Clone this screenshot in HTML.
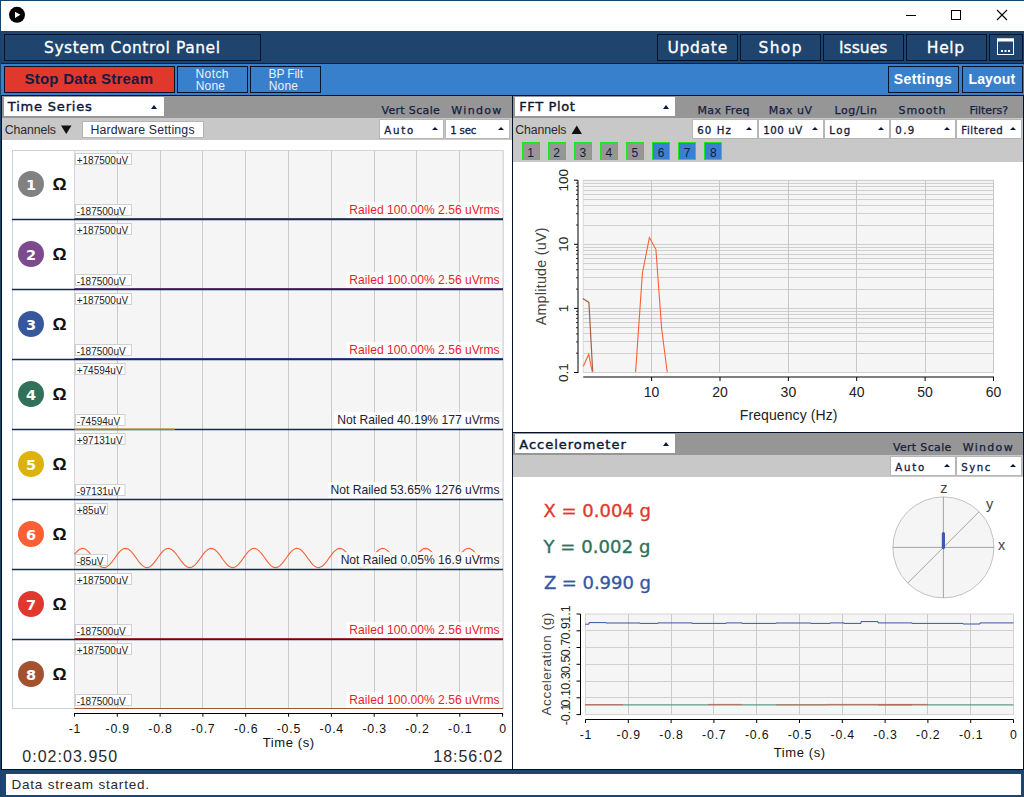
<!DOCTYPE html><html><head><meta charset="utf-8"><title>OpenBCI GUI</title><style>
html,body{margin:0;padding:0;}
body{width:1024px;height:797px;position:relative;overflow:hidden;background:#fff;font-family:"Liberation Sans",sans-serif;}
.a{position:absolute;box-sizing:border-box;}
.t{position:absolute;white-space:nowrap;line-height:1;}
.btn{position:absolute;box-sizing:border-box;border:1px solid #011229;}
.dd{position:absolute;box-sizing:border-box;background:#fff;border:1px solid #b6b6b6;height:20px;}
.dd i{position:absolute;right:4.8px;top:7px;width:0;height:0;border-left:3px solid transparent;border-right:3px solid transparent;border-bottom:3.5px solid #0c1a38;}
.ttl{position:absolute;box-sizing:border-box;background:#fff;height:19px;width:160px;}
.ttl i{position:absolute;right:6.5px;top:7.5px;width:0;height:0;border-left:3px solid transparent;border-right:3px solid transparent;border-bottom:4px solid #0c1a38;}
svg{position:absolute;left:0;top:0;}
svg text{font-family:"Liberation Sans",sans-serif;}
</style></head><body>
<div class="a" style="left:0;top:0;width:1024px;height:31px;background:#fff;border-top:1px solid #17446b;border-left:1px solid #17446b;"></div>
<svg width="1024" height="31" style="z-index:2"><circle cx="17" cy="14.8" r="8" fill="#000"/><path d="M15 11.7 L15 17.9 L20.4 14.8 Z" fill="#fff"/><path d="M906 15.5 H916" stroke="#000" stroke-width="1"/><rect x="951.5" y="10.5" width="9" height="9" fill="none" stroke="#000" stroke-width="1"/><path d="M997 10 L1007 20 M1007 10 L997 20" stroke="#000" stroke-width="1.1"/></svg>
<div class="a" style="left:0;top:31px;width:1024px;height:33px;background:#1f456e;border-bottom:1px solid #0b213f;"></div>
<div class="btn" style="left:4px;top:34px;width:257px;height:27px;background:#1f456e;"></div>
<div class="t" style="left:44px;top:41.00px;font-size:15.5px;color:#fff;font-family:'DejaVu Sans', 'Liberation Sans', sans-serif;font-weight:400;letter-spacing:0.55px;-webkit-text-stroke:0.3px #fff;">System Control Panel</div>
<div class="btn" style="left:657px;top:34px;width:81px;height:27px;background:#1f456e;"></div>
<div class="t" style="left:667.4px;top:41.00px;font-size:15.5px;color:#fff;font-family:'DejaVu Sans', 'Liberation Sans', sans-serif;font-weight:400;letter-spacing:0.73px;-webkit-text-stroke:0.3px #fff;">Update</div>
<div class="btn" style="left:740px;top:34px;width:81px;height:27px;background:#1f456e;"></div>
<div class="t" style="left:758.5px;top:41.00px;font-size:15.5px;color:#fff;font-family:'DejaVu Sans', 'Liberation Sans', sans-serif;font-weight:400;letter-spacing:1.33px;-webkit-text-stroke:0.3px #fff;">Shop</div>
<div class="btn" style="left:823px;top:34px;width:81px;height:27px;background:#1f456e;"></div>
<div class="t" style="left:839px;top:41.00px;font-size:15.5px;color:#fff;font-family:'DejaVu Sans', 'Liberation Sans', sans-serif;font-weight:400;letter-spacing:0.03px;-webkit-text-stroke:0.3px #fff;">Issues</div>
<div class="btn" style="left:906px;top:34px;width:81px;height:27px;background:#1f456e;"></div>
<div class="t" style="left:926.8px;top:41.00px;font-size:15.5px;color:#fff;font-family:'DejaVu Sans', 'Liberation Sans', sans-serif;font-weight:400;letter-spacing:0.69px;-webkit-text-stroke:0.3px #fff;">Help</div>
<div class="btn" style="left:989px;top:34px;width:34px;height:27px;background:#1f456e;"></div>
<svg width="1024" height="70" style="z-index:2"><rect x="997.5" y="39" width="16" height="15.5" fill="none" stroke="#fff" stroke-width="1"/><rect x="997" y="38.5" width="17" height="3" fill="#fff"/><rect x="1001" y="50" width="2" height="2" fill="#fff"/><rect x="1004.5" y="50" width="2" height="2" fill="#fff"/><rect x="1008" y="50" width="2" height="2" fill="#fff"/></svg>
<div class="a" style="left:0;top:64px;width:1024px;height:31px;background:#3980cc;"></div>
<div class="btn" style="left:4px;top:66px;width:171px;height:27px;background:#e0382d;"></div>
<div class="t" style="left:24.5px;top:71.00px;font-size:15px;color:#151a45;font-family:'Liberation Sans', sans-serif;font-weight:700;letter-spacing:0.23px;">Stop Data Stream</div>
<div class="btn" style="left:177px;top:66px;width:71px;height:27px;background:#3980cc;"></div>
<div class="t" style="left:195.5px;top:68.00px;font-size:12px;color:#e9f0fa;font-family:'Liberation Sans', sans-serif;font-weight:400;letter-spacing:0.41px;">Notch</div>
<div class="t" style="left:195.7px;top:80.00px;font-size:12px;color:#e9f0fa;font-family:'Liberation Sans', sans-serif;font-weight:400;letter-spacing:0.2px;">None</div>
<div class="btn" style="left:250px;top:66px;width:71px;height:27px;background:#3980cc;"></div>
<div class="t" style="left:268.5px;top:68.00px;font-size:12px;color:#e9f0fa;font-family:'Liberation Sans', sans-serif;font-weight:400;letter-spacing:-0.1px;">BP Filt</div>
<div class="t" style="left:268.7px;top:80.00px;font-size:12px;color:#e9f0fa;font-family:'Liberation Sans', sans-serif;font-weight:400;letter-spacing:0.2px;">None</div>
<div class="btn" style="left:888px;top:66px;width:71px;height:27px;background:#3980cc;"></div>
<div class="t" style="left:893.8px;top:72.00px;font-size:14px;color:#fff;font-family:'Liberation Sans', sans-serif;font-weight:700;letter-spacing:0.4px;">Settings</div>
<div class="btn" style="left:962px;top:66px;width:61px;height:27px;background:#3980cc;"></div>
<div class="t" style="left:968.5px;top:72.00px;font-size:14px;color:#fff;font-family:'Liberation Sans', sans-serif;font-weight:700;letter-spacing:0.14px;">Layout</div>
<div class="a" style="left:1px;top:95px;width:512px;height:675px;background:#fff;border:1px solid #011229;"></div>
<div class="a" style="left:2px;top:96px;width:510px;height:22px;background:#969696;"></div>
<div class="a" style="left:2px;top:118px;width:510px;height:22px;background:#c8c8c8;"></div>
<div class="a" style="left:512px;top:95px;width:512px;height:338px;background:#fff;border:1px solid #011229;"></div>
<div class="a" style="left:513px;top:96px;width:510px;height:22px;background:#969696;"></div>
<div class="a" style="left:513px;top:118px;width:510px;height:22px;background:#c8c8c8;"></div>
<div class="a" style="left:513px;top:140px;width:510px;height:22px;background:#c8c8c8;"></div>
<div class="a" style="left:512px;top:432px;width:512px;height:338px;background:#fff;border:1px solid #011229;"></div>
<div class="a" style="left:513px;top:433px;width:510px;height:22px;background:#969696;"></div>
<div class="a" style="left:513px;top:455px;width:510px;height:22px;background:#c8c8c8;"></div>
<div class="ttl" style="left:3.5px;top:97px;"><i></i></div>
<div class="t" style="left:7.8px;top:100.00px;font-size:13px;color:#0b1735;font-family:'DejaVu Sans', 'Liberation Sans', sans-serif;font-weight:400;letter-spacing:0.81px;-webkit-text-stroke:0.4px #0b1735;">Time Series</div>
<div class="ttl" style="left:515px;top:97px;"><i></i></div>
<div class="t" style="left:519.3px;top:100.00px;font-size:13px;color:#0b1735;font-family:'DejaVu Sans', 'Liberation Sans', sans-serif;font-weight:400;letter-spacing:0.6px;-webkit-text-stroke:0.4px #0b1735;">FFT Plot</div>
<div class="ttl" style="left:515px;top:434px;"><i></i></div>
<div class="t" style="left:519.3px;top:438.00px;font-size:13px;color:#0b1735;font-family:'DejaVu Sans', 'Liberation Sans', sans-serif;font-weight:400;letter-spacing:0.98px;-webkit-text-stroke:0.4px #0b1735;">Accelerometer</div>
<div class="t" style="left:4.7px;top:124.00px;font-size:12.3px;color:#2a2a2a;font-family:'Liberation Sans', sans-serif;font-weight:400;letter-spacing:-0.1px;">Channels</div>
<svg width="200" height="160"><path d="M61 125.5 H71.5 L66.25 134 Z" fill="#111"/></svg>
<div class="a" style="left:82px;top:121px;width:122px;height:17px;background:#fff;border:1px solid #b4b4b4;"></div>
<div class="t" style="left:90.5px;top:124.00px;font-size:12.3px;color:#1a2747;font-family:'Liberation Sans', sans-serif;font-weight:400;letter-spacing:0.18px;">Hardware Settings</div>
<div class="t" style="left:381.4px;top:105.00px;font-size:11px;color:#14203f;font-family:'DejaVu Sans', 'Liberation Sans', sans-serif;font-weight:400;letter-spacing:0.34px;-webkit-text-stroke:0.25px #14203f;">Vert Scale</div>
<div class="t" style="left:451.3px;top:105.00px;font-size:11px;color:#14203f;font-family:'DejaVu Sans', 'Liberation Sans', sans-serif;font-weight:400;letter-spacing:1.32px;-webkit-text-stroke:0.25px #14203f;">Window</div>
<div class="dd" style="left:379px;top:119px;width:65px;"><i></i></div>
<div class="t" style="left:384.3px;top:126.00px;font-size:10.2px;color:#14203f;font-family:'DejaVu Sans', 'Liberation Sans', sans-serif;font-weight:400;letter-spacing:1.78px;-webkit-text-stroke:0.3px #14203f;">Auto</div>
<div class="dd" style="left:445px;top:119px;width:65px;"><i></i></div>
<div class="t" style="left:450.3px;top:126.00px;font-size:10.2px;color:#14203f;font-family:'DejaVu Sans', 'Liberation Sans', sans-serif;font-weight:400;letter-spacing:-0.23px;-webkit-text-stroke:0.3px #14203f;">1 sec</div>
<div class="t" style="left:515.2px;top:124.00px;font-size:12.3px;color:#2a2a2a;font-family:'Liberation Sans', sans-serif;font-weight:400;letter-spacing:-0.1px;">Channels</div>
<svg width="700" height="160"><path d="M571.5 134 H582 L576.75 125.5 Z" fill="#111"/></svg>
<div class="t" style="left:697.6px;top:105.00px;font-size:11px;color:#14203f;font-family:'DejaVu Sans', 'Liberation Sans', sans-serif;font-weight:400;letter-spacing:0.29px;-webkit-text-stroke:0.25px #14203f;">Max Freq</div>
<div class="t" style="left:768.7px;top:105.00px;font-size:11px;color:#14203f;font-family:'DejaVu Sans', 'Liberation Sans', sans-serif;font-weight:400;letter-spacing:0.51px;-webkit-text-stroke:0.25px #14203f;">Max uV</div>
<div class="t" style="left:834.5px;top:105.00px;font-size:11px;color:#14203f;font-family:'DejaVu Sans', 'Liberation Sans', sans-serif;font-weight:400;letter-spacing:0.5px;-webkit-text-stroke:0.25px #14203f;">Log/Lin</div>
<div class="t" style="left:898.5px;top:105.00px;font-size:11px;color:#14203f;font-family:'DejaVu Sans', 'Liberation Sans', sans-serif;font-weight:400;letter-spacing:0.91px;-webkit-text-stroke:0.25px #14203f;">Smooth</div>
<div class="t" style="left:969.5px;top:105.00px;font-size:11px;color:#14203f;font-family:'DejaVu Sans', 'Liberation Sans', sans-serif;font-weight:400;letter-spacing:-0.04px;-webkit-text-stroke:0.25px #14203f;">Filters?</div>
<div class="dd" style="left:692px;top:119px;width:65.5px;"><i></i></div>
<div class="t" style="left:697.3px;top:126.00px;font-size:10.2px;color:#14203f;font-family:'DejaVu Sans', 'Liberation Sans', sans-serif;font-weight:400;letter-spacing:1.07px;-webkit-text-stroke:0.3px #14203f;">60 Hz</div>
<div class="dd" style="left:758px;top:119px;width:65.5px;"><i></i></div>
<div class="t" style="left:763.3px;top:126.00px;font-size:10.2px;color:#14203f;font-family:'DejaVu Sans', 'Liberation Sans', sans-serif;font-weight:400;letter-spacing:0.54px;-webkit-text-stroke:0.3px #14203f;">100 uV</div>
<div class="dd" style="left:824px;top:119px;width:65.5px;"><i></i></div>
<div class="t" style="left:829.3px;top:126.00px;font-size:10.2px;color:#14203f;font-family:'DejaVu Sans', 'Liberation Sans', sans-serif;font-weight:400;letter-spacing:1.4px;-webkit-text-stroke:0.3px #14203f;">Log</div>
<div class="dd" style="left:890px;top:119px;width:65.5px;"><i></i></div>
<div class="t" style="left:895.3px;top:126.00px;font-size:10.2px;color:#14203f;font-family:'DejaVu Sans', 'Liberation Sans', sans-serif;font-weight:400;letter-spacing:1.4px;-webkit-text-stroke:0.3px #14203f;">0.9</div>
<div class="dd" style="left:956px;top:119px;width:65.5px;"><i></i></div>
<div class="t" style="left:961.3px;top:126.00px;font-size:10.2px;color:#14203f;font-family:'DejaVu Sans', 'Liberation Sans', sans-serif;font-weight:400;letter-spacing:0.54px;-webkit-text-stroke:0.3px #14203f;">Filtered</div>
<div class="a" style="left:521.5px;top:142px;width:18px;height:18px;background:#969696;border:1px solid #1fe51f;"></div>
<div class="t" style="left:527.2px;top:147.00px;font-size:12px;color:#131c36;font-family:'Liberation Sans', sans-serif;font-weight:400;">1</div>
<div class="a" style="left:547.6px;top:142px;width:18px;height:18px;background:#969696;border:1px solid #1fe51f;"></div>
<div class="t" style="left:553.3000000000001px;top:147.00px;font-size:12px;color:#131c36;font-family:'Liberation Sans', sans-serif;font-weight:400;">2</div>
<div class="a" style="left:573.7px;top:142px;width:18px;height:18px;background:#969696;border:1px solid #1fe51f;"></div>
<div class="t" style="left:579.4000000000001px;top:147.00px;font-size:12px;color:#131c36;font-family:'Liberation Sans', sans-serif;font-weight:400;">3</div>
<div class="a" style="left:599.8px;top:142px;width:18px;height:18px;background:#969696;border:1px solid #1fe51f;"></div>
<div class="t" style="left:605.5px;top:147.00px;font-size:12px;color:#131c36;font-family:'Liberation Sans', sans-serif;font-weight:400;">4</div>
<div class="a" style="left:625.9px;top:142px;width:18px;height:18px;background:#969696;border:1px solid #1fe51f;"></div>
<div class="t" style="left:631.6px;top:147.00px;font-size:12px;color:#131c36;font-family:'Liberation Sans', sans-serif;font-weight:400;">5</div>
<div class="a" style="left:652.0px;top:142px;width:18px;height:18px;background:#3a7fd0;border:1px solid #1fe51f;"></div>
<div class="t" style="left:657.7px;top:147.00px;font-size:12px;color:#131c36;font-family:'Liberation Sans', sans-serif;font-weight:400;">6</div>
<div class="a" style="left:678.1px;top:142px;width:18px;height:18px;background:#3a7fd0;border:1px solid #1fe51f;"></div>
<div class="t" style="left:683.8000000000001px;top:147.00px;font-size:12px;color:#131c36;font-family:'Liberation Sans', sans-serif;font-weight:400;">7</div>
<div class="a" style="left:704.2px;top:142px;width:18px;height:18px;background:#3a7fd0;border:1px solid #1fe51f;"></div>
<div class="t" style="left:709.9000000000001px;top:147.00px;font-size:12px;color:#131c36;font-family:'Liberation Sans', sans-serif;font-weight:400;">8</div>
<div class="t" style="left:892.9px;top:442.00px;font-size:11px;color:#14203f;font-family:'DejaVu Sans', 'Liberation Sans', sans-serif;font-weight:400;letter-spacing:0.34px;-webkit-text-stroke:0.25px #14203f;">Vert Scale</div>
<div class="t" style="left:962.7px;top:442.00px;font-size:11px;color:#14203f;font-family:'DejaVu Sans', 'Liberation Sans', sans-serif;font-weight:400;letter-spacing:1.32px;-webkit-text-stroke:0.25px #14203f;">Window</div>
<div class="dd" style="left:890px;top:456px;width:65.5px;"><i></i></div>
<div class="t" style="left:895.3px;top:463.00px;font-size:10.2px;color:#14203f;font-family:'DejaVu Sans', 'Liberation Sans', sans-serif;font-weight:400;letter-spacing:1.78px;-webkit-text-stroke:0.3px #14203f;">Auto</div>
<div class="dd" style="left:956px;top:456px;width:65.5px;"><i></i></div>
<div class="t" style="left:961.3px;top:463.00px;font-size:10.2px;color:#14203f;font-family:'DejaVu Sans', 'Liberation Sans', sans-serif;font-weight:400;letter-spacing:1.48px;-webkit-text-stroke:0.3px #14203f;">Sync</div>
<svg width="1024" height="797" style="z-index:1"><rect x="12.5" y="150.5" width="490.5" height="558" fill="#fff" stroke="#c6d3df" stroke-width="1"/><rect x="74.5" y="150.5" width="428.5" height="558" fill="#f5f5f5" stroke="#cfd5db" stroke-width="1"/><path d="M117.5 151 V708" stroke="#cbcbcb" stroke-width="1"/><path d="M160.5 151 V708" stroke="#cbcbcb" stroke-width="1"/><path d="M202.5 151 V708" stroke="#cbcbcb" stroke-width="1"/><path d="M245.5 151 V708" stroke="#cbcbcb" stroke-width="1"/><path d="M288.5 151 V708" stroke="#cbcbcb" stroke-width="1"/><path d="M331.5 151 V708" stroke="#cbcbcb" stroke-width="1"/><path d="M374.5 151 V708" stroke="#cbcbcb" stroke-width="1"/><path d="M416.5 151 V708" stroke="#cbcbcb" stroke-width="1"/><path d="M459.5 151 V708" stroke="#cbcbcb" stroke-width="1"/><polyline points="74.5,554.4 76.0,552.6 77.5,551.0 79.0,549.7 80.5,548.9 82.0,548.4 83.5,548.5 85.0,549.0 86.5,549.9 88.0,551.3 89.5,552.9 91.0,554.8 92.5,556.9 94.0,559.0 95.5,561.0 97.0,562.9 98.5,564.6 100.0,566.0 101.5,566.9 103.0,567.5 104.5,567.6 106.0,567.2 107.5,566.4 109.0,565.2 110.5,563.6 112.0,561.8 113.5,559.8 115.0,557.7 116.5,555.6 118.0,553.6 119.5,551.8 121.0,550.4 122.5,549.3 124.0,548.6 125.5,548.4 127.0,548.6 128.5,549.3 130.0,550.4 131.5,551.9 133.0,553.7 134.5,555.6 136.0,557.7 137.5,559.8 139.0,561.8 140.5,563.7 142.0,565.2 143.5,566.4 145.0,567.2 146.5,567.6 148.0,567.5 149.5,566.9 151.0,565.9 152.5,564.5 154.0,562.9 155.5,560.9 157.0,558.9 158.5,556.8 160.0,554.7 161.5,552.8 163.0,551.2 164.5,549.9 166.0,549.0 167.5,548.5 169.0,548.4 170.5,548.9 172.0,549.7 173.5,551.0 175.0,552.6 176.5,554.5 178.0,556.5 179.5,558.6 181.0,560.7 182.5,562.6 184.0,564.4 185.5,565.8 187.0,566.8 188.5,567.4 190.0,567.6 191.5,567.3 193.0,566.5 194.5,565.4 196.0,563.9 197.5,562.1 199.0,560.1 200.5,558.0 202.0,555.9 203.5,553.9 205.0,552.1 206.5,550.6 208.0,549.4 209.5,548.7 211.0,548.4 212.5,548.6 214.0,549.2 215.5,550.2 217.0,551.7 218.5,553.4 220.0,555.3 221.5,557.4 223.0,559.5 224.5,561.5 226.0,563.4 227.5,565.0 229.0,566.3 230.5,567.1 232.0,567.6 233.5,567.5 235.0,567.0 236.5,566.1 238.0,564.8 239.5,563.1 241.0,561.3 242.5,559.2 244.0,557.1 245.5,555.0 247.0,553.1 248.5,551.4 250.0,550.1 251.5,549.1 253.0,548.5 254.5,548.4 256.0,548.8 257.5,549.6 259.0,550.8 260.5,552.3 262.0,554.2 263.5,556.2 265.0,558.3 266.5,560.4 268.0,562.3 269.5,564.1 271.0,565.6 272.5,566.7 274.0,567.4 275.5,567.6 277.0,567.4 278.5,566.7 280.0,565.6 281.5,564.1 283.0,562.4 284.5,560.4 286.0,558.3 287.5,556.2 289.0,554.2 290.5,552.4 292.0,550.8 293.5,549.6 295.0,548.8 296.5,548.4 298.0,548.5 299.5,549.1 301.0,550.0 302.5,551.4 304.0,553.1 305.5,555.0 307.0,557.1 308.5,559.2 310.0,561.2 311.5,563.1 313.0,564.8 314.5,566.1 316.0,567.0 317.5,567.5 319.0,567.6 320.5,567.1 322.0,566.3 323.5,565.0 325.0,563.4 326.5,561.6 328.0,559.5 329.5,557.4 331.0,555.4 332.5,553.4 334.0,551.7 335.5,550.3 337.0,549.2 338.5,548.6 340.0,548.4 341.5,548.7 343.0,549.4 344.5,550.6 346.0,552.1 347.5,553.9 349.0,555.9 350.5,557.9 352.0,560.0 353.5,562.0 355.0,563.8 356.5,565.4 358.0,566.5 359.5,567.3 361.0,567.6 362.5,567.4 364.0,566.8 365.5,565.8 367.0,564.4 368.5,562.7 370.0,560.7 371.5,558.7 373.0,556.6 374.5,554.5 376.0,552.7 377.5,551.0 379.0,549.8 380.5,548.9 382.0,548.4 383.5,548.5 385.0,548.9 386.5,549.9 388.0,551.2 389.5,552.8 391.0,554.7 392.5,556.7 394.0,558.8 395.5,560.9 397.0,562.8 398.5,564.5 400.0,565.9 401.5,566.9 403.0,567.5 404.5,567.6 406.0,567.2 407.5,566.4 409.0,565.3 410.5,563.7 412.0,561.9 413.5,559.9 415.0,557.8 416.5,555.7 418.0,553.7 419.5,551.9 421.0,550.5 422.5,549.3 424.0,548.6 425.5,548.4 427.0,548.6 428.5,549.3 430.0,550.4 431.5,551.8 433.0,553.6 434.5,555.5 436.0,557.6 437.5,559.7 439.0,561.7 440.5,563.6 442.0,565.1 443.5,566.4 445.0,567.2 446.5,567.6 448.0,567.5 449.5,567.0 451.0,566.0 452.5,564.6 454.0,563.0 455.5,561.1 457.0,559.0 458.5,556.9 460.0,554.8 461.5,552.9 463.0,551.3 464.5,549.9 466.0,549.0 467.5,548.5 469.0,548.4 470.5,548.8 472.0,549.7 473.5,550.9 475.0,552.5 476.5,554.4 478.0,556.4 479.5,558.5 481.0,560.6 482.5,562.5 484.0,564.3 485.5,565.7 487.0,566.8 488.5,567.4 490.0,567.6 491.5,567.3 493.0,566.6 494.5,565.5 496.0,564.0 497.5,562.2 499.0,560.2 500.5,558.1 502.0,556.0" fill="none" stroke="#fd5e34" stroke-width="1.1"/><path d="M74.5 218.5 H503" stroke="#55555f" stroke-width="1.1"/><path d="M12 219.5 H503" stroke="#14294b" stroke-width="1.5"/><circle cx="31" cy="184" r="13" fill="#818181"/><text x="31.1" y="189.9" font-size="14.5" font-weight="700" fill="#fff" text-anchor="middle" style="font-family:'DejaVu Sans', 'Liberation Sans', sans-serif">1</text><text transform="translate(59.6 189.9) scale(1.1 1.0)" font-size="16" font-weight="700" fill="#111" text-anchor="middle">&#937;</text><rect x="75.5" y="153.5" width="56" height="11" fill="#fff" stroke="#d0d0d0" stroke-width="1"/><text x="76.7" y="163.7" font-size="10" fill="#222">+187500uV</text><rect x="75.5" y="204.5" width="56" height="11" fill="#fff" stroke="#d0d0d0" stroke-width="1"/><text x="76.7" y="215" font-size="10" fill="#222">-187500uV</text><path d="M74.5 288.5 H503" stroke="#6b3f80" stroke-width="1.1"/><path d="M12 289.5 H503" stroke="#14294b" stroke-width="1.5"/><circle cx="31" cy="254" r="13" fill="#7c4b8d"/><text x="31.1" y="259.9" font-size="14.5" font-weight="700" fill="#fff" text-anchor="middle" style="font-family:'DejaVu Sans', 'Liberation Sans', sans-serif">2</text><text transform="translate(59.6 259.9) scale(1.1 1.0)" font-size="16" font-weight="700" fill="#111" text-anchor="middle">&#937;</text><rect x="75.5" y="223.5" width="56" height="11" fill="#fff" stroke="#d0d0d0" stroke-width="1"/><text x="76.7" y="233.7" font-size="10" fill="#222">+187500uV</text><rect x="75.5" y="274.5" width="56" height="11" fill="#fff" stroke="#d0d0d0" stroke-width="1"/><text x="76.7" y="285" font-size="10" fill="#222">-187500uV</text><path d="M74.5 358.5 H503" stroke="#2f4f95" stroke-width="1.1"/><path d="M12 359.5 H503" stroke="#14294b" stroke-width="1.5"/><circle cx="31" cy="324" r="13" fill="#36579e"/><text x="31.1" y="329.9" font-size="14.5" font-weight="700" fill="#fff" text-anchor="middle" style="font-family:'DejaVu Sans', 'Liberation Sans', sans-serif">3</text><text transform="translate(59.6 329.9) scale(1.1 1.0)" font-size="16" font-weight="700" fill="#111" text-anchor="middle">&#937;</text><rect x="75.5" y="293.5" width="56" height="11" fill="#fff" stroke="#d0d0d0" stroke-width="1"/><text x="76.7" y="303.7" font-size="10" fill="#222">+187500uV</text><rect x="75.5" y="344.5" width="56" height="11" fill="#fff" stroke="#d0d0d0" stroke-width="1"/><text x="76.7" y="355" font-size="10" fill="#222">-187500uV</text><path d="M12 429.5 H503" stroke="#14294b" stroke-width="1.5"/><path d="M74.5 429.2 H175" stroke="#c9a227" stroke-width="1.2"/><circle cx="31" cy="394" r="13" fill="#317159"/><text x="31.1" y="399.9" font-size="14.5" font-weight="700" fill="#fff" text-anchor="middle" style="font-family:'DejaVu Sans', 'Liberation Sans', sans-serif">4</text><text transform="translate(59.6 399.9) scale(1.1 1.0)" font-size="16" font-weight="700" fill="#111" text-anchor="middle">&#937;</text><rect x="75.5" y="363.5" width="49.5" height="11" fill="#fff" stroke="#d0d0d0" stroke-width="1"/><text x="76.7" y="373.7" font-size="10" fill="#222">+74594uV</text><rect x="75.5" y="414.5" width="49.5" height="11" fill="#fff" stroke="#d0d0d0" stroke-width="1"/><text x="76.7" y="425" font-size="10" fill="#222">-74594uV</text><path d="M12 499.5 H503" stroke="#14294b" stroke-width="1.5"/><circle cx="31" cy="464" r="13" fill="#ddb20d"/><text x="31.1" y="469.9" font-size="14.5" font-weight="700" fill="#fff" text-anchor="middle" style="font-family:'DejaVu Sans', 'Liberation Sans', sans-serif">5</text><text transform="translate(59.6 469.9) scale(1.1 1.0)" font-size="16" font-weight="700" fill="#111" text-anchor="middle">&#937;</text><rect x="75.5" y="433.5" width="49.5" height="11" fill="#fff" stroke="#d0d0d0" stroke-width="1"/><text x="76.7" y="443.7" font-size="10" fill="#222">+97131uV</text><rect x="75.5" y="484.5" width="49.5" height="11" fill="#fff" stroke="#d0d0d0" stroke-width="1"/><text x="76.7" y="495" font-size="10" fill="#222">-97131uV</text><path d="M12 569.5 H503" stroke="#14294b" stroke-width="1.5"/><circle cx="31" cy="534" r="13" fill="#fd5e34"/><text x="31.1" y="539.9" font-size="14.5" font-weight="700" fill="#fff" text-anchor="middle" style="font-family:'DejaVu Sans', 'Liberation Sans', sans-serif">6</text><text transform="translate(59.6 539.9) scale(1.1 1.0)" font-size="16" font-weight="700" fill="#111" text-anchor="middle">&#937;</text><rect x="75.5" y="503.5" width="32" height="11" fill="#fff" stroke="#d0d0d0" stroke-width="1"/><text x="76.7" y="513.7" font-size="10" fill="#222">+85uV</text><rect x="75.5" y="554.5" width="32" height="11" fill="#fff" stroke="#d0d0d0" stroke-width="1"/><text x="76.7" y="565" font-size="10" fill="#222">-85uV</text><path d="M74.5 638.5 H503" stroke="#d0302a" stroke-width="1.1"/><path d="M12 639.5 H503" stroke="#14294b" stroke-width="1.5"/><circle cx="31" cy="604" r="13" fill="#e0382d"/><text x="31.1" y="609.9" font-size="14.5" font-weight="700" fill="#fff" text-anchor="middle" style="font-family:'DejaVu Sans', 'Liberation Sans', sans-serif">7</text><text transform="translate(59.6 609.9) scale(1.1 1.0)" font-size="16" font-weight="700" fill="#111" text-anchor="middle">&#937;</text><rect x="75.5" y="573.5" width="56" height="11" fill="#fff" stroke="#d0d0d0" stroke-width="1"/><text x="76.7" y="583.7" font-size="10" fill="#222">+187500uV</text><rect x="75.5" y="624.5" width="56" height="11" fill="#fff" stroke="#d0d0d0" stroke-width="1"/><text x="76.7" y="635" font-size="10" fill="#222">-187500uV</text><path d="M74.5 708.5 H503" stroke="#a25231" stroke-width="1.1"/><circle cx="31" cy="674" r="13" fill="#a25231"/><text x="31.1" y="679.9" font-size="14.5" font-weight="700" fill="#fff" text-anchor="middle" style="font-family:'DejaVu Sans', 'Liberation Sans', sans-serif">8</text><text transform="translate(59.6 679.9) scale(1.1 1.0)" font-size="16" font-weight="700" fill="#111" text-anchor="middle">&#937;</text><rect x="75.5" y="643.5" width="56" height="11" fill="#fff" stroke="#d0d0d0" stroke-width="1"/><text x="76.7" y="653.7" font-size="10" fill="#222">+187500uV</text><rect x="75.5" y="694.5" width="56" height="11" fill="#fff" stroke="#d0d0d0" stroke-width="1"/><text x="76.7" y="705" font-size="10" fill="#222">-187500uV</text><path d="M74.0 713.5 H503.1" stroke="#000" stroke-width="1"/><path d="M74.5 713.5 V716.7" stroke="#000" stroke-width="1"/><text x="74.9" y="733" font-size="12.3" letter-spacing="0.8" fill="#111" text-anchor="middle">-1</text><path d="M117.3 713.5 V716.7" stroke="#000" stroke-width="1"/><text x="117.7" y="733" font-size="12.3" letter-spacing="0.8" fill="#111" text-anchor="middle">-0.9</text><path d="M160.1 713.5 V716.7" stroke="#000" stroke-width="1"/><text x="160.5" y="733" font-size="12.3" letter-spacing="0.8" fill="#111" text-anchor="middle">-0.8</text><path d="M202.9 713.5 V716.7" stroke="#000" stroke-width="1"/><text x="203.3" y="733" font-size="12.3" letter-spacing="0.8" fill="#111" text-anchor="middle">-0.7</text><path d="M245.7 713.5 V716.7" stroke="#000" stroke-width="1"/><text x="246.1" y="733" font-size="12.3" letter-spacing="0.8" fill="#111" text-anchor="middle">-0.6</text><path d="M288.6 713.5 V716.7" stroke="#000" stroke-width="1"/><text x="288.9" y="733" font-size="12.3" letter-spacing="0.8" fill="#111" text-anchor="middle">-0.5</text><path d="M331.4 713.5 V716.7" stroke="#000" stroke-width="1"/><text x="331.8" y="733" font-size="12.3" letter-spacing="0.8" fill="#111" text-anchor="middle">-0.4</text><path d="M374.2 713.5 V716.7" stroke="#000" stroke-width="1"/><text x="374.6" y="733" font-size="12.3" letter-spacing="0.8" fill="#111" text-anchor="middle">-0.3</text><path d="M417.0 713.5 V716.7" stroke="#000" stroke-width="1"/><text x="417.4" y="733" font-size="12.3" letter-spacing="0.8" fill="#111" text-anchor="middle">-0.2</text><path d="M459.8 713.5 V716.7" stroke="#000" stroke-width="1"/><text x="460.2" y="733" font-size="12.3" letter-spacing="0.8" fill="#111" text-anchor="middle">-0.1</text><path d="M502.6 713.5 V716.7" stroke="#000" stroke-width="1"/><text x="503.0" y="733" font-size="12.3" letter-spacing="0.8" fill="#111" text-anchor="middle">0</text><text x="288.8" y="747.3" font-size="13" letter-spacing="0.6" fill="#111" text-anchor="middle">Time (s)</text></svg>
<div class="t" style="z-index:2;right:522.5px;top:202px;height:16px;padding:0 2px 0 3px;background:rgba(255,255,255,.78);font-size:12.1px;line-height:16.5px;color:#ee1c2a;">Railed 100.00% 2.56 uVrms</div>
<div class="t" style="z-index:2;right:522.5px;top:272px;height:16px;padding:0 2px 0 3px;background:rgba(255,255,255,.78);font-size:12.1px;line-height:16.5px;color:#ee1c2a;">Railed 100.00% 2.56 uVrms</div>
<div class="t" style="z-index:2;right:522.5px;top:342px;height:16px;padding:0 2px 0 3px;background:rgba(255,255,255,.78);font-size:12.1px;line-height:16.5px;color:#ee1c2a;">Railed 100.00% 2.56 uVrms</div>
<div class="t" style="z-index:2;right:522.5px;top:412px;height:16px;padding:0 2px 0 3px;background:rgba(255,255,255,.78);font-size:12.1px;line-height:16.5px;color:#1c2233;">Not Railed 40.19% 177 uVrms</div>
<div class="t" style="z-index:2;right:522.5px;top:482px;height:16px;padding:0 2px 0 3px;background:rgba(255,255,255,.78);font-size:12.1px;line-height:16.5px;color:#1c2233;">Not Railed 53.65% 1276 uVrms</div>
<div class="t" style="z-index:2;right:522.5px;top:552px;height:16px;padding:0 2px 0 3px;background:rgba(255,255,255,.78);font-size:12.1px;line-height:16.5px;color:#1c2233;">Not Railed 0.05% 16.9 uVrms</div>
<div class="t" style="z-index:2;right:522.5px;top:622px;height:16px;padding:0 2px 0 3px;background:rgba(255,255,255,.78);font-size:12.1px;line-height:16.5px;color:#ee1c2a;">Railed 100.00% 2.56 uVrms</div>
<div class="t" style="z-index:2;right:522.5px;top:692px;height:16px;padding:0 2px 0 3px;background:rgba(255,255,255,.78);font-size:12.1px;line-height:16.5px;color:#ee1c2a;">Railed 100.00% 2.56 uVrms</div>
<div class="t" style="left:22.2px;top:749.00px;font-size:16px;color:#2a2a2a;font-family:'Liberation Sans', sans-serif;font-weight:400;letter-spacing:1.05px;">0:02:03.950</div>
<div class="t" style="left:433.3px;top:749.00px;font-size:16px;color:#2a2a2a;font-family:'Liberation Sans', sans-serif;font-weight:400;letter-spacing:0.96px;">18:56:02</div>
<svg width="1024" height="797" style="z-index:1"><rect x="583.2" y="180.2" width="410.3" height="192.3" fill="#f5f5f5" stroke="#d2d2d2" stroke-width="0.8"/><path d="M583.2 372.5 H993.5" stroke="#cfcfcf" stroke-width="1"/><path d="M583.2 353.5 H993.5" stroke="#cfcfcf" stroke-width="1"/><path d="M583.2 341.5 H993.5" stroke="#cfcfcf" stroke-width="1"/><path d="M583.2 333.5 H993.5" stroke="#cfcfcf" stroke-width="1"/><path d="M583.2 327.5 H993.5" stroke="#cfcfcf" stroke-width="1"/><path d="M583.2 322.5 H993.5" stroke="#cfcfcf" stroke-width="1"/><path d="M583.2 318.5 H993.5" stroke="#cfcfcf" stroke-width="1"/><path d="M583.2 314.5 H993.5" stroke="#cfcfcf" stroke-width="1"/><path d="M583.2 311.5 H993.5" stroke="#cfcfcf" stroke-width="1"/><path d="M583.2 308.5 H993.5" stroke="#cfcfcf" stroke-width="1"/><path d="M583.2 289.5 H993.5" stroke="#cfcfcf" stroke-width="1"/><path d="M583.2 277.5 H993.5" stroke="#cfcfcf" stroke-width="1"/><path d="M583.2 269.5 H993.5" stroke="#cfcfcf" stroke-width="1"/><path d="M583.2 263.5 H993.5" stroke="#cfcfcf" stroke-width="1"/><path d="M583.2 258.5 H993.5" stroke="#cfcfcf" stroke-width="1"/><path d="M583.2 254.5 H993.5" stroke="#cfcfcf" stroke-width="1"/><path d="M583.2 250.5 H993.5" stroke="#cfcfcf" stroke-width="1"/><path d="M583.2 247.5 H993.5" stroke="#cfcfcf" stroke-width="1"/><path d="M583.2 244.5 H993.5" stroke="#cfcfcf" stroke-width="1"/><path d="M583.2 225.5 H993.5" stroke="#cfcfcf" stroke-width="1"/><path d="M583.2 213.5 H993.5" stroke="#cfcfcf" stroke-width="1"/><path d="M583.2 205.5 H993.5" stroke="#cfcfcf" stroke-width="1"/><path d="M583.2 199.5 H993.5" stroke="#cfcfcf" stroke-width="1"/><path d="M583.2 194.5 H993.5" stroke="#cfcfcf" stroke-width="1"/><path d="M583.2 190.5 H993.5" stroke="#cfcfcf" stroke-width="1"/><path d="M583.2 186.5 H993.5" stroke="#cfcfcf" stroke-width="1"/><path d="M583.2 183.5 H993.5" stroke="#cfcfcf" stroke-width="1"/><path d="M583.2 180.7 H993.5" stroke="#cdcdcd" stroke-width="0.9"/><path d="M651.5 180.2 V372.5" stroke="#c8c8c8" stroke-width="1"/><path d="M719.5 180.2 V372.5" stroke="#c8c8c8" stroke-width="1"/><path d="M788.5 180.2 V372.5" stroke="#c8c8c8" stroke-width="1"/><path d="M856.5 180.2 V372.5" stroke="#c8c8c8" stroke-width="1"/><path d="M925.5 180.2 V372.5" stroke="#c8c8c8" stroke-width="1"/><path d="M993.5 180.2 V372.5" stroke="#c8c8c8" stroke-width="1"/><path d="M578 180.2 V373.0" stroke="#000" stroke-width="1"/><path d="M574 372.5 H578" stroke="#000" stroke-width="1"/><path d="M576 353.2 H578" stroke="#000" stroke-width="0.8"/><path d="M576 341.9 H578" stroke="#000" stroke-width="0.8"/><path d="M576 333.9 H578" stroke="#000" stroke-width="0.8"/><path d="M576 327.7 H578" stroke="#000" stroke-width="0.8"/><path d="M576 322.6 H578" stroke="#000" stroke-width="0.8"/><path d="M576 318.3 H578" stroke="#000" stroke-width="0.8"/><path d="M576 314.6 H578" stroke="#000" stroke-width="0.8"/><path d="M576 311.3 H578" stroke="#000" stroke-width="0.8"/><text transform="translate(567.5 372.5) rotate(-90)" font-size="13.5" fill="#222" text-anchor="middle">0.1</text><path d="M574 308.4 H578" stroke="#000" stroke-width="1"/><path d="M576 289.1 H578" stroke="#000" stroke-width="0.8"/><path d="M576 277.8 H578" stroke="#000" stroke-width="0.8"/><path d="M576 269.8 H578" stroke="#000" stroke-width="0.8"/><path d="M576 263.6 H578" stroke="#000" stroke-width="0.8"/><path d="M576 258.5 H578" stroke="#000" stroke-width="0.8"/><path d="M576 254.2 H578" stroke="#000" stroke-width="0.8"/><path d="M576 250.5 H578" stroke="#000" stroke-width="0.8"/><path d="M576 247.2 H578" stroke="#000" stroke-width="0.8"/><text transform="translate(567.5 308.4) rotate(-90)" font-size="13.5" fill="#222" text-anchor="middle">1</text><path d="M574 244.3 H578" stroke="#000" stroke-width="1"/><path d="M576 225.0 H578" stroke="#000" stroke-width="0.8"/><path d="M576 213.7 H578" stroke="#000" stroke-width="0.8"/><path d="M576 205.7 H578" stroke="#000" stroke-width="0.8"/><path d="M576 199.5 H578" stroke="#000" stroke-width="0.8"/><path d="M576 194.4 H578" stroke="#000" stroke-width="0.8"/><path d="M576 190.1 H578" stroke="#000" stroke-width="0.8"/><path d="M576 186.4 H578" stroke="#000" stroke-width="0.8"/><path d="M576 183.1 H578" stroke="#000" stroke-width="0.8"/><text transform="translate(567.5 244.3) rotate(-90)" font-size="13.5" fill="#222" text-anchor="middle">10</text><path d="M574 180.2 H578" stroke="#000" stroke-width="1"/><text transform="translate(567.5 180.2) rotate(-90)" font-size="13.5" fill="#222" text-anchor="middle">100</text><path d="M583.2 377 H994.0" stroke="#000" stroke-width="1.2"/><path d="M651.6 377 V381" stroke="#000" stroke-width="1"/><text x="651.6" y="397.3" font-size="14" fill="#222" text-anchor="middle">10</text><path d="M720.0 377 V381" stroke="#000" stroke-width="1"/><text x="720.0" y="397.3" font-size="14" fill="#222" text-anchor="middle">20</text><path d="M788.4 377 V381" stroke="#000" stroke-width="1"/><text x="788.4" y="397.3" font-size="14" fill="#222" text-anchor="middle">30</text><path d="M856.7 377 V381" stroke="#000" stroke-width="1"/><text x="856.7" y="397.3" font-size="14" fill="#222" text-anchor="middle">40</text><path d="M925.1 377 V381" stroke="#000" stroke-width="1"/><text x="925.1" y="397.3" font-size="14" fill="#222" text-anchor="middle">50</text><path d="M993.5 377 V381" stroke="#000" stroke-width="1"/><text x="993.5" y="397.3" font-size="14" fill="#222" text-anchor="middle">60</text><text x="788.7" y="419.7" font-size="14" letter-spacing="0.1" fill="#222" text-anchor="middle">Frequency (Hz)</text><text transform="translate(545.5 276.3) rotate(-90)" font-size="14.2" letter-spacing="0.3" fill="#444" text-anchor="middle">Amplitude (uV)</text><polyline points="582.8,298.6 588.9,302.4 592.7,372" fill="none" stroke="#a5603f" stroke-width="1.2"/><polyline points="583.3,366.3 588.7,354.3 592.3,372" fill="none" stroke="#fd5e34" stroke-width="1.1"/><polyline points="635.6,372 642.4,273 649.4,237.6 655.9,249.3 661.6,328.3 667.2,372" fill="none" stroke="#fd5e34" stroke-width="1.1"/></svg>
<div class="t" style="left:543.4px;top:502.00px;font-size:18px;color:#e0382d;font-family:'DejaVu Sans', 'Liberation Sans', sans-serif;font-weight:400;letter-spacing:0.01px;-webkit-text-stroke:0.35px #e0382d;">X = 0.004 g</div>
<div class="t" style="left:543.4px;top:538.00px;font-size:18px;color:#317159;font-family:'DejaVu Sans', 'Liberation Sans', sans-serif;font-weight:400;letter-spacing:0.08px;-webkit-text-stroke:0.35px #317159;">Y = 0.002 g</div>
<div class="t" style="left:543.9px;top:574.00px;font-size:18px;color:#36579e;font-family:'DejaVu Sans', 'Liberation Sans', sans-serif;font-weight:400;letter-spacing:-0.05px;-webkit-text-stroke:0.35px #36579e;">Z = 0.990 g</div>
<svg width="1024" height="797" style="z-index:1"><circle cx="943.4" cy="547.4" r="50.5" fill="#f5f5f5" stroke="#c2c2c2" stroke-width="1"/><path d="M892.9 547.4 H993.9 M943.4 496.9 V597.9 M907.7 583.1 L979.1 511.7" stroke="#9a9a9a" stroke-width="0.9" fill="none"/><path d="M943.4 533.5 V547.6" stroke="#3a5cb0" stroke-width="3.2" stroke-linecap="round"/><text x="943.8" y="492.5" font-size="14.5" fill="#444" text-anchor="middle">z</text><text x="989.5" y="508.5" font-size="14.5" fill="#444" text-anchor="middle">y</text><text x="1001.5" y="550" font-size="14.5" fill="#444" text-anchor="middle">x</text><rect x="585.5" y="614" width="428.0" height="100.60000000000002" fill="#f5f5f5" stroke="#d4d4d4" stroke-width="1"/><path d="M628.5 614 V714.6" stroke="#cbcbcb" stroke-width="1"/><path d="M671.5 614 V714.6" stroke="#cbcbcb" stroke-width="1"/><path d="M713.5 614 V714.6" stroke="#cbcbcb" stroke-width="1"/><path d="M756.5 614 V714.6" stroke="#cbcbcb" stroke-width="1"/><path d="M799.5 614 V714.6" stroke="#cbcbcb" stroke-width="1"/><path d="M842.5 614 V714.6" stroke="#cbcbcb" stroke-width="1"/><path d="M885.5 614 V714.6" stroke="#cbcbcb" stroke-width="1"/><path d="M927.5 614 V714.6" stroke="#cbcbcb" stroke-width="1"/><path d="M970.5 614 V714.6" stroke="#cbcbcb" stroke-width="1"/><path d="M576.5 714.6 H580.5" stroke="#000" stroke-width="1"/><text transform="translate(570 714.6) rotate(-90)" font-size="12.5" fill="#222" text-anchor="middle">-0.1</text><path d="M585.5 697.5 H1013.5" stroke="#cfcfcf" stroke-width="1"/><path d="M576.5 697.8 H580.5" stroke="#000" stroke-width="1"/><text transform="translate(570 697.8) rotate(-90)" font-size="12.5" fill="#222" text-anchor="middle">0.1</text><path d="M585.5 681.5 H1013.5" stroke="#cfcfcf" stroke-width="1"/><path d="M576.5 681.1 H580.5" stroke="#000" stroke-width="1"/><text transform="translate(570 681.1) rotate(-90)" font-size="12.5" fill="#222" text-anchor="middle">0.3</text><path d="M585.5 664.5 H1013.5" stroke="#cfcfcf" stroke-width="1"/><path d="M576.5 664.3 H580.5" stroke="#000" stroke-width="1"/><text transform="translate(570 664.3) rotate(-90)" font-size="12.5" fill="#222" text-anchor="middle">0.5</text><path d="M585.5 647.5 H1013.5" stroke="#cfcfcf" stroke-width="1"/><path d="M576.5 647.5 H580.5" stroke="#000" stroke-width="1"/><text transform="translate(570 647.5) rotate(-90)" font-size="12.5" fill="#222" text-anchor="middle">0.7</text><path d="M585.5 630.5 H1013.5" stroke="#cfcfcf" stroke-width="1"/><path d="M576.5 630.8 H580.5" stroke="#000" stroke-width="1"/><text transform="translate(570 630.8) rotate(-90)" font-size="12.5" fill="#222" text-anchor="middle">0.9</text><path d="M576.5 614.0 H580.5" stroke="#000" stroke-width="1"/><text transform="translate(570 614.0) rotate(-90)" font-size="12.5" fill="#222" text-anchor="middle">1.1</text><path d="M580.5 614 V715.1" stroke="#000" stroke-width="1"/><path d="M585.5 719.5 H1013.5" stroke="#000" stroke-width="1"/><path d="M585.5 719.5 V723" stroke="#000" stroke-width="1"/><text x="585.9" y="739" font-size="12.3" letter-spacing="0.8" fill="#111" text-anchor="middle">-1</text><path d="M628.3 719.5 V723" stroke="#000" stroke-width="1"/><text x="628.7" y="739" font-size="12.3" letter-spacing="0.8" fill="#111" text-anchor="middle">-0.9</text><path d="M671.1 719.5 V723" stroke="#000" stroke-width="1"/><text x="671.5" y="739" font-size="12.3" letter-spacing="0.8" fill="#111" text-anchor="middle">-0.8</text><path d="M713.9 719.5 V723" stroke="#000" stroke-width="1"/><text x="714.3" y="739" font-size="12.3" letter-spacing="0.8" fill="#111" text-anchor="middle">-0.7</text><path d="M756.7 719.5 V723" stroke="#000" stroke-width="1"/><text x="757.1" y="739" font-size="12.3" letter-spacing="0.8" fill="#111" text-anchor="middle">-0.6</text><path d="M799.5 719.5 V723" stroke="#000" stroke-width="1"/><text x="799.9" y="739" font-size="12.3" letter-spacing="0.8" fill="#111" text-anchor="middle">-0.5</text><path d="M842.3 719.5 V723" stroke="#000" stroke-width="1"/><text x="842.7" y="739" font-size="12.3" letter-spacing="0.8" fill="#111" text-anchor="middle">-0.4</text><path d="M885.1 719.5 V723" stroke="#000" stroke-width="1"/><text x="885.5" y="739" font-size="12.3" letter-spacing="0.8" fill="#111" text-anchor="middle">-0.3</text><path d="M927.9 719.5 V723" stroke="#000" stroke-width="1"/><text x="928.3" y="739" font-size="12.3" letter-spacing="0.8" fill="#111" text-anchor="middle">-0.2</text><path d="M970.7 719.5 V723" stroke="#000" stroke-width="1"/><text x="971.1" y="739" font-size="12.3" letter-spacing="0.8" fill="#111" text-anchor="middle">-0.1</text><path d="M1013.5 719.5 V723" stroke="#000" stroke-width="1"/><text x="1013.9" y="739" font-size="12.3" letter-spacing="0.8" fill="#111" text-anchor="middle">0</text><text x="799.8" y="756.5" font-size="13" letter-spacing="0.6" fill="#111" text-anchor="middle">Time (s)</text><text transform="translate(550.5 663.8) rotate(-90)" font-size="13.5" letter-spacing="0.55" fill="#444" text-anchor="middle">Acceleration (g)</text><path d="M585 624.2 H589 V622.6 H606 V623 H640 V623.4 H658 V622.9 H692 V623.4 H726 V622.9 H742 V623.4 H776 V623 H811 V623.4 H830 V622.9 H844 V623.4 H861 V621.6 H878 V622.9 H912 V623.4 H963 V624 H980 V622.9 H1013.5" fill="none" stroke="#36579e" stroke-width="1"/><path d="M585 704.9 H1013.5" fill="none" stroke="#5f9a86" stroke-width="1.3"/><path d="M585 704.6 H623 M708 704.4 H742 M776 704.8 H826 M878 705 H912 M826 704.4 H928" fill="none" stroke="#d9452f" stroke-width="0.7" opacity="0.8"/></svg>
<div class="a" style="left:0;top:770px;width:1024px;height:27px;background:#1f456e;"></div>
<div class="a" style="left:6px;top:774px;width:1015px;height:21px;background:#fff;"></div>
<div class="t" style="left:11.4px;top:778.00px;font-size:13.5px;color:#2a2a2a;font-family:'Liberation Sans', sans-serif;font-weight:400;letter-spacing:0.81px;">Data stream started.</div>
<div class="a" style="left:0;top:0;width:1px;height:797px;background:#17446b;"></div>
</body></html>
